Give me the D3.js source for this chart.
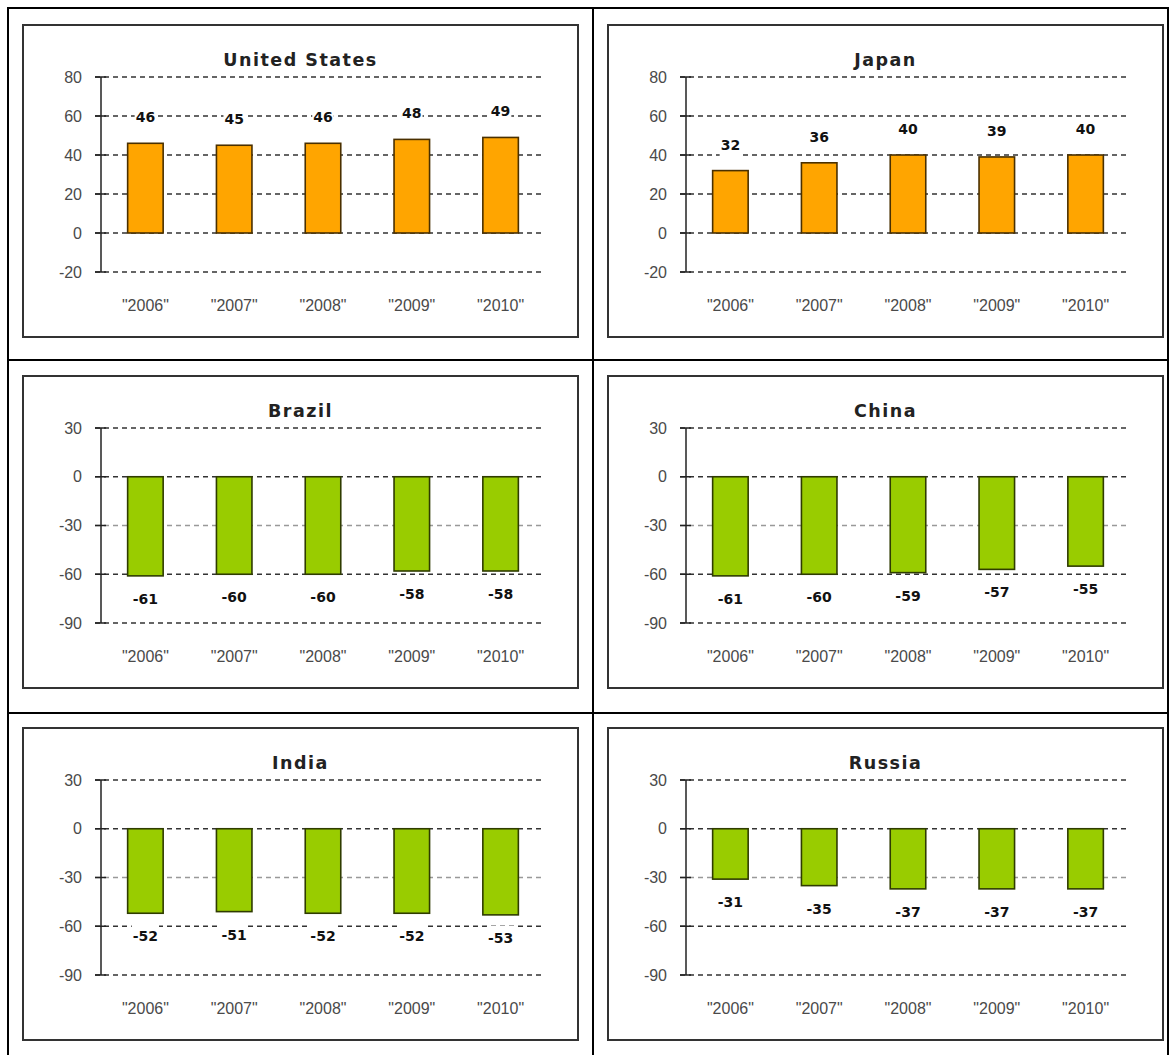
<!DOCTYPE html>
<html>
<head>
<meta charset="utf-8">
<script src="https://cdn.jsdelivr.net/npm/d3@7"></script>
<style>
  body { margin: 0; background: #fff; }
  .tick-label { font-family: "Liberation Sans", Arial, sans-serif; font-size: 16px; fill: #4a4a4a; }
  .title { font-family: "DejaVu Sans", Verdana, sans-serif; font-weight: bold; font-size: 17.5px; fill: #222; letter-spacing: 1.5px; }
  .value { font-family: "DejaVu Sans", Verdana, sans-serif; font-weight: bold; font-size: 14px; fill: #111; }
</style>
</head>
<body>
<div id="chart"></div>
<script>
const width = 1170;
const height = 1055;

const years = ["2006", "2007", "2008", "2009", "2010"];
const countries = ["United States", "Japan", "Brazil", "China", "India", "Russia"];

const usValues = [46, 45, 46, 48, 49];
const japanValues = [32, 36, 40, 39, 40];
const brazilValues = [-61, -60, -60, -58, -58];
const chinaValues = [-61, -60, -59, -57, -55];
const indiaValues = [-52, -51, -52, -52, -53];
const russiaValues = [-31, -35, -37, -37, -37];

const topTicks = [-20, 0, 20, 40, 60, 80];
const bottomTicks = [-90, -60, -30, 0, 30];

const colors = {
  positive: "#ffa500",
  positiveStroke: "#4a3000",
  negative: "#99cc00",
  negativeStroke: "#2f3c00",
  grid: "#333",
  gridLight: "#999",
  frame: "#000",
  box: "#333"
};

const panels = [
  { name: countries[0], values: usValues, ticks: topTicks },
  { name: countries[1], values: japanValues, ticks: topTicks },
  { name: countries[2], values: brazilValues, ticks: bottomTicks },
  { name: countries[3], values: chinaValues, ticks: bottomTicks },
  { name: countries[4], values: indiaValues, ticks: bottomTicks },
  { name: countries[5], values: russiaValues, ticks: bottomTicks }
];

const svg = d3.select("#chart")
  .append("svg")
  .attr("width", width)
  .attr("height", height);

// outer table lines
const colX = [8, 593, 1168];
const rowY = [8, 360, 713];
rowY.forEach(y => {
  svg.append("line")
    .attr("x1", colX[0]).attr("x2", colX[2])
    .attr("y1", y).attr("y2", y)
    .attr("stroke", colors.frame).attr("stroke-width", 2);
});
colX.forEach(x => {
  svg.append("line")
    .attr("x1", x).attr("x2", x)
    .attr("y1", rowY[0] - 1).attr("y2", height)
    .attr("stroke", colors.frame).attr("stroke-width", 2);
});

const boxLeft = [23, 608];
const boxTop = [25, 376, 728];
const boxW = 555;
const boxH = 312;

panels.forEach((p, i) => {
  const bx = boxLeft[i % 2];
  const by = boxTop[Math.floor(i / 2)];
  const g = svg.append("g").attr("transform", `translate(${bx},${by})`);

  g.append("rect")
    .attr("x", 0).attr("y", 0)
    .attr("width", boxW).attr("height", boxH)
    .attr("fill", "#fff")
    .attr("stroke", colors.box)
    .attr("stroke-width", 2);

  const axisX = 78;
  const plotRight = 522;
  const y = d3.scaleLinear()
    .domain(d3.extent(p.ticks))
    .range([247, 52]);
  const x = d3.scaleBand()
    .domain(years)
    .range([axisX, plotRight])
    .paddingInner(0.6)
    .paddingOuter(0.3);

  g.append("text")
    .attr("class", "title")
    .attr("x", boxW / 2)
    .attr("y", 41)
    .attr("text-anchor", "middle")
    .text(p.name);

  // dashed grid
  const lowGroup = p.ticks[0] < -30;
  g.selectAll(".grid")
    .data(p.ticks)
    .enter()
    .append("line")
    .attr("x1", axisX - 6)
    .attr("x2", plotRight)
    .attr("y1", d => y(d))
    .attr("y2", d => y(d))
    .attr("stroke", d => (lowGroup && d === -30) ? colors.gridLight : colors.grid)
    .attr("stroke-width", 1.4)
    .attr("stroke-dasharray", "5,4");

  // y axis with crossing ticks
  g.append("line")
    .attr("x1", axisX).attr("x2", axisX)
    .attr("y1", y.range()[1]).attr("y2", y.range()[0])
    .attr("stroke", "#222").attr("stroke-width", 1.5);
  g.selectAll(".ytick")
    .data(p.ticks)
    .enter()
    .append("line")
    .attr("x1", axisX - 6).attr("x2", axisX + 5)
    .attr("y1", d => y(d)).attr("y2", d => y(d))
    .attr("stroke", "#222").attr("stroke-width", 1.5);

  g.selectAll(".ylab")
    .data(p.ticks)
    .enter()
    .append("text")
    .attr("class", "tick-label")
    .attr("x", axisX - 19)
    .attr("y", d => y(d))
    .attr("dy", "0.35em")
    .attr("text-anchor", "end")
    .text(d => d);

  const pos = p.values[0] >= 0;
  g.selectAll(".bar")
    .data(p.values)
    .enter()
    .append("rect")
    .attr("x", (d, j) => x(years[j]))
    .attr("width", x.bandwidth())
    .attr("y", d => y(Math.max(0, d)))
    .attr("height", d => Math.abs(y(d) - y(0)))
    .attr("fill", pos ? colors.positive : colors.negative)
    .attr("stroke", pos ? colors.positiveStroke : colors.negativeStroke)
    .attr("stroke-width", 1.6);

  // value labels with white backing
  const labels = g.selectAll(".val")
    .data(p.values)
    .enter()
    .append("g")
    .attr("transform", (d, j) => {
      const cy = d >= 0 ? y(d) - 26 : y(d) + 23;
      return `translate(${x(years[j]) + x.bandwidth() / 2},${cy})`;
    });
  labels.append("rect")
    .attr("fill", "#fff");
  labels.append("text")
    .attr("class", "value")
    .attr("text-anchor", "middle")
    .attr("dy", "0.35em")
    .text(d => d);
  labels.each(function() {
    const t = d3.select(this).select("text").node().getBBox();
    d3.select(this).select("rect")
      .attr("x", t.x - 1).attr("width", t.width + 2)
      .attr("y", -12).attr("height", 24);
  });

  g.selectAll(".xlab")
    .data(years)
    .enter()
    .append("text")
    .attr("class", "tick-label")
    .attr("x", d => x(d) + x.bandwidth() / 2)
    .attr("y", 286)
    .attr("text-anchor", "middle")
    .text(d => `"${d}"`);
});
</script>
</body>
</html>
